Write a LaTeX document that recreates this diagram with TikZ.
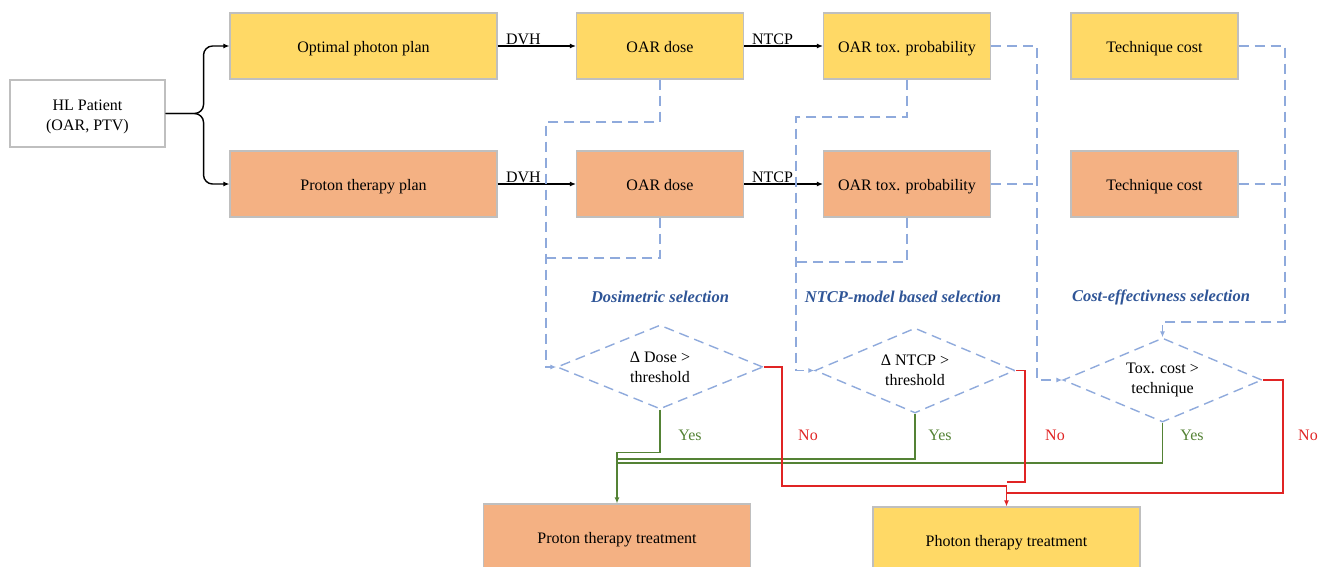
\documentclass[tikz,border=0pt]{standalone}
\usepackage{fontspec}
\setmainfont{Liberation Serif}
\usetikzlibrary{shapes.geometric,arrows.meta}
\definecolor{photonyellow}{HTML}{FFD966}
\definecolor{protonorange}{HTML}{F4B183}
\definecolor{boxgray}{HTML}{BFBFBF}
\definecolor{selblue}{HTML}{8FAADC}
\definecolor{titleblue}{HTML}{2F5597}
\definecolor{yesgreen}{HTML}{548235}
\definecolor{nored}{HTML}{E02424}

\tikzset{
  planbox/.style={draw=boxgray, line width=1.1pt, minimum width=267pt, minimum height=66pt, inner sep=2pt, text height=12pt, text depth=0pt},
  smallbox/.style={planbox, minimum width=167pt},
  decision/.style={diamond, draw=selblue, dash pattern=on 10pt off 6pt, line width=1.4pt, aspect=2.4, minimum width=200pt, minimum height=85pt, inner sep=0pt, align=center},
  selline/.style={draw=selblue, dash pattern=on 10pt off 6pt, line width=1.4pt},
  yesline/.style={draw=yesgreen, line width=1.4pt},
  noline/.style={draw=nored, line width=1.4pt},
  seltitle/.style={text=titleblue, font=\fontsize{16.5}{19}\selectfont\bfseries\itshape},
}

\begin{document}
\begin{tikzpicture}[x=1pt, y=-1pt, >={Latex[length=6pt,width=5pt]}, font=\fontsize{16}{20}\selectfont]
\useasboundingbox (0,0) rectangle (1328,566);
% boxes
\node[draw=boxgray, line width=1.1pt, minimum width=155pt, minimum height=67pt, inner sep=2pt, align=center, text height=34pt, text depth=0pt] (patient) at (87.5,113.5) {HL Patient\\(OAR, PTV)};
\node[planbox, fill=photonyellow] (photonplan) at (363.5,46) {Optimal photon plan};
\node[planbox, fill=protonorange] (protonplan) at (363.5,184) {Proton therapy plan};
\node[smallbox, fill=photonyellow] (dosephot) at (660,46) {OAR dose};
\node[smallbox, fill=protonorange] (doseprot) at (660,184) {OAR dose};
\node[smallbox, fill=photonyellow] (toxphot) at (907,46) {OAR tox. probability};
\node[smallbox, fill=protonorange] (toxprot) at (907,184) {OAR tox. probability};
\node[smallbox, fill=photonyellow] (costphot) at (1154.5,46) {Technique cost};
\node[smallbox, fill=protonorange] (costprot) at (1154.5,184) {Technique cost};
\node[planbox, fill=protonorange] (protontreat) at (617,537) {Proton therapy treatment};
\node[planbox, fill=photonyellow] (photontreat) at (1006.5,540) {Photon therapy treatment};
% decisions
\node[decision, minimum width=206pt, minimum height=84pt] (dosedec) at (660,367) {Δ Dose >\\threshold};
\node[decision] (ntcpdec) at (915,370.5) {Δ NTCP >\\threshold};
\node[decision, minimum width=199pt, minimum height=84pt] (costdec) at (1162.5,380) {Tox. cost >\\technique};
% section titles
\node[seltitle] (dosetitle) at (660,297) {Dosimetric selection};
\node[seltitle] (ntcptitle) at (903,297) {NTCP-model based selection};
\node[seltitle] (costtitle) at (1161,297) {Cost-effectivness selection};
% plan arrows
\draw[->, line width=1.4pt, rounded corners=9pt] (patient.east) -- ++(38,0) |- (photonplan.west);
\draw[->, line width=1.4pt, rounded corners=9pt] (patient.east) -- ++(38,0) |- (protonplan.west);
\draw[->, line width=1.4pt] (photonplan.east) -- node[above, pos=0.33, inner sep=1pt] {DVH} (dosephot.west);
\draw[->, line width=1.4pt] (protonplan.east) -- node[above, pos=0.33, inner sep=1pt] {DVH} (doseprot.west);
\draw[->, line width=1.4pt] (dosephot.east) -- node[above, pos=0.36, inner sep=1pt] {NTCP} (toxphot.west);
\draw[->, line width=1.4pt] (doseprot.east) -- node[above, pos=0.36, inner sep=1pt] {NTCP} (toxprot.west);
% selection lines
\draw[selline, ->] (dosephot.south) |- (546,122) |- (dosedec.west);
\draw[selline] (doseprot.south) |- (546,258);
\draw[selline, ->] (toxphot.south) |- (796,117) |- (ntcpdec.west);
\draw[selline] (toxprot.south) |- (796,262);
\draw[selline, ->] (toxphot.east) -| (1037,380) -- (costdec.west);
\draw[selline] (toxprot.east) -- (1037,184);
\draw[selline, ->] (costphot.east) -| (1285,322) -| (costdec.north);
\draw[selline] (costprot.east) -- (1285,184);
% yes branches
\draw[yesline, ->] (dosedec.south) -- ++(0,43) -| (protontreat.north);
\draw[yesline] (ntcpdec.south) |- (617,459);
\draw[yesline] (costdec.south) |- (617,463);
% no branches
\draw[noline, ->] (dosedec.east) -| (782,486) -| (photontreat.north);
\draw[noline] (ntcpdec.east) -| (1025,482) -- (1006.5,482);
\draw[noline] (costdec.east) -| (1283,493) -- (1006.5,493);
% branch labels
\node[text=yesgreen] (yesdose) at (690,435) {Yes};
\node[text=yesgreen] (yesntcp) at (940,435) {Yes};
\node[text=yesgreen] (yescost) at (1192,435) {Yes};
\node[text=nored] (nodose) at (808,435) {No};
\node[text=nored] (nontcp) at (1055,435) {No};
\node[text=nored] (nocost) at (1308,435) {No};
\end{tikzpicture}
\end{document}
